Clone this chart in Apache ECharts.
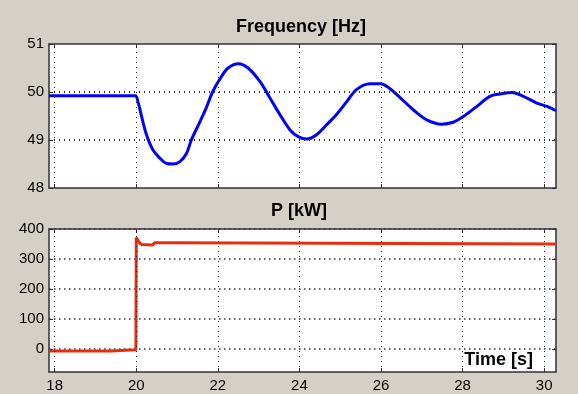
<!DOCTYPE html>
<html><head><meta charset="utf-8">
<script src="https://cdn.jsdelivr.net/npm/echarts@6/dist/echarts.min.js"></script>
<style>html,body{margin:0;padding:0;background:#d4d0c8}#c{width:578px;height:394px}</style>
</head><body><div id="c"></div><script>
// ---- data ----
const freqTime = [17.86,19.97,20.04,20.13,20.25,20.41,20.58,20.74,20.90,21.07,21.23,21.35,21.56,21.72,21.87,22.05,22.25,22.50,22.74,23.03,23.28,23.52,23.77,23.97,24.18,24.42,24.67,24.91,25.16,25.40,25.73,25.98,26.22,26.46,26.79,27.12,27.49,27.77,28.02,28.35,28.67,28.92,29.21,29.49,29.82,30.07,30.29];
const freqValues = [49.92,49.92,49.80,49.49,49.11,48.79,48.62,48.51,48.50,48.55,48.72,49.00,49.38,49.68,50.00,50.27,50.50,50.59,50.50,50.22,49.87,49.53,49.21,49.07,49.02,49.11,49.32,49.53,49.80,50.05,50.17,50.17,50.07,49.89,49.63,49.42,49.33,49.37,49.49,49.70,49.91,49.96,49.99,49.91,49.77,49.70,49.61];
const powerTime = [17.86,19.37,19.37,19.99,20.00,20.05,20.09,20.14,20.40,20.45,20.87,20.90,30.29];
const powerValues = [-7,-7,-3,-3,372,360,352,348,347,354,354,350,350];
const xTicks = [18,20,22,24,26,28,30];
const freqTicks = [48,49,50,51];
const powerTicks = [0,100,200,300,400];
const xRange = [17.86, 30.29];
const freqRange = [48, 51];
const powerRange = [-77, 400];
const freqTitle = 'Frequency [Hz]';
const powerTitle = 'P [kW]';
const timeLabel = 'Time [s]';

// ---- styling ----
const FONT = '"Liberation Sans", Arial, sans-serif';
const frameLine = {show:true, onZero:false, lineStyle:{color:'#333', width:1.5}};
const vDotStyle = {color:'#222', width:1, type:[1,4]};
const hDotStyle = {color:'#333', width:1.5, type:[1.5,3.5]};
const markDotStyle = {color:'#333', width:2, type:[1,4]};
const labelStyle = {color:'#000', fontSize:15, fontFamily:FONT};

function xAxis(grid, pos, showLabels) {
  return {
    type:'value', gridIndex:grid, position:pos, min:xRange[0], max:xRange[1],
    axisLine:frameLine,
    axisTick:{show:true, inside:true, length:4, customValues:xTicks, lineStyle:{color:'#333'}},
    axisLabel:Object.assign({show:showLabels, customValues:xTicks, margin:6}, labelStyle),
    splitLine:{show:false}
  };
}
function yAxis(grid, pos, range, ticks, split) {
  return {
    type:'value', gridIndex:grid, position:pos, min:range[0], max:range[1],
    axisLine:frameLine,
    axisTick:{show:true, inside:true, length:4, customValues:ticks, lineStyle:{color:'#333'}},
    axisLabel:Object.assign({show:pos==='left', customValues:ticks, margin:5}, labelStyle),
    splitLine: split ? {show:true, lineStyle:hDotStyle} : {show:false}
  };
}
function vLines(xi, yi, range) {
  return {
    type:'line', xAxisIndex:xi, yAxisIndex:yi, z:1, silent:true, showSymbol:false,
    lineStyle:{opacity:0}, data:[[xRange[0], range[0]], [xRange[1], range[1]]],
    markLine:{silent:true, symbol:['none','none'], label:{show:false}, animation:false,
      lineStyle:vDotStyle, data:xTicks.map(v => ({xAxis:v}))}
  };
}
const freqInner = freqTicks.filter(v => v > freqRange[0] && v < freqRange[1]);

const chart = echarts.init(document.getElementById('c'), null, {renderer:'canvas'});
chart.setOption({
  animation:false,
  backgroundColor:'#d4d0c8',
  grid:[
    {left:49, top:44, width:507, height:144, backgroundColor:'#fff', show:true, borderWidth:0},
    {left:49, top:229, width:507, height:143, backgroundColor:'#fff', show:true, borderWidth:0}
  ],
  xAxis:[xAxis(0,'bottom',false), xAxis(0,'top',false), xAxis(1,'bottom',true), xAxis(1,'top',false)],
  yAxis:[yAxis(0,'left',freqRange,freqTicks,false), yAxis(0,'right',freqRange,freqTicks,false),
         yAxis(1,'left',powerRange,powerTicks,true), yAxis(1,'right',powerRange,powerTicks,false)],
  graphic:[
    {type:'text', x:301, y:27, style:{text:freqTitle, font:'bold 18px '+FONT, fill:'#000', align:'center', verticalAlign:'middle'}},
    {type:'text', x:299, y:211, style:{text:powerTitle, font:'bold 18px '+FONT, fill:'#000', align:'center', verticalAlign:'middle'}},
    {type:'text', x:533, y:360, z:100, style:{text:timeLabel, font:'bold 18px '+FONT, fill:'#000', align:'right', verticalAlign:'middle'}}
  ],
  series:[
    vLines(0, 0, freqRange),
    vLines(2, 2, powerRange),
    {type:'line', xAxisIndex:0, yAxisIndex:0, showSymbol:false, smooth:0.35, z:3,
     lineStyle:{color:'#0000ff', width:3}, data:freqTime.map((t,i)=>[t,freqValues[i]]),
     markLine:{silent:true, symbol:['none','none'], label:{show:false}, animation:false,
       lineStyle:markDotStyle, data:freqInner.map(v => ({yAxis:v}))}},
    {type:'line', xAxisIndex:2, yAxisIndex:2, showSymbol:false, z:3,
     lineStyle:{color:'#e62e0e', width:3}, data:powerTime.map((t,i)=>[t,powerValues[i]])}
  ]
});
</script></body></html>
